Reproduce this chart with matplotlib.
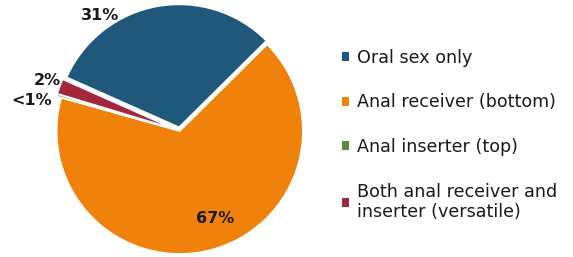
import numpy as np
import matplotlib
matplotlib.use('Agg')
import matplotlib.pyplot as plt
from matplotlib.patches import Patch

categories = ['Oral sex only', 'Anal receiver (bottom)', 'Anal inserter (top)',
              'Both anal receiver and\ninserter (versatile)']
shares = [30.9, 66.8, 0.3, 2.0]
pct_labels = ['31%', '67%', '<1%', '2%']
colors = ['#1F587A', '#F0820C', '#5A8A3C', '#A3263A']

plt.rcParams['font.family'] = ['DejaVu Sans']

fig = plt.figure(figsize=(5.73, 2.57), dpi=100)
ax = fig.add_axes([0, 0, 309 / 573, 1])

wedges, _ = ax.pie(shares, colors=colors, startangle=156, counterclock=False,
                   explode=[0.03, 0, 0.04, 0.04],
                   wedgeprops=dict(edgecolor='white', linewidth=1.2))

# label placement (radius, angle in degrees)
label_pos = [(1.14, 124.6), (0.77, -68.0), (1.23, 168.2), (1.15, 159.0)]
for txt, (r, a) in zip(pct_labels, label_pos):
    t = np.deg2rad(a)
    ax.text(r * np.cos(t), r * np.sin(t), txt, ha='center', va='center',
            fontsize=11.5, fontweight='bold', color='#1a1a1a')

ax.set_xlim(-1.46, 1.05)
ax.set_ylim(-1.025, 1.065)
ax.set_aspect('equal', adjustable='datalim')

handles = [Patch(facecolor=c, edgecolor='none') for c in colors]
fig.legend(handles, categories, loc='upper left', bbox_to_anchor=(333 / 573, 1 - 40 / 257),
           frameon=False, fontsize=12.6, handlelength=0.4, handleheight=0.4,
           handletextpad=0.45, labelspacing=1.52, borderpad=0, labelcolor='#1a1a1a')

fig.savefig('out.png', dpi=100)
